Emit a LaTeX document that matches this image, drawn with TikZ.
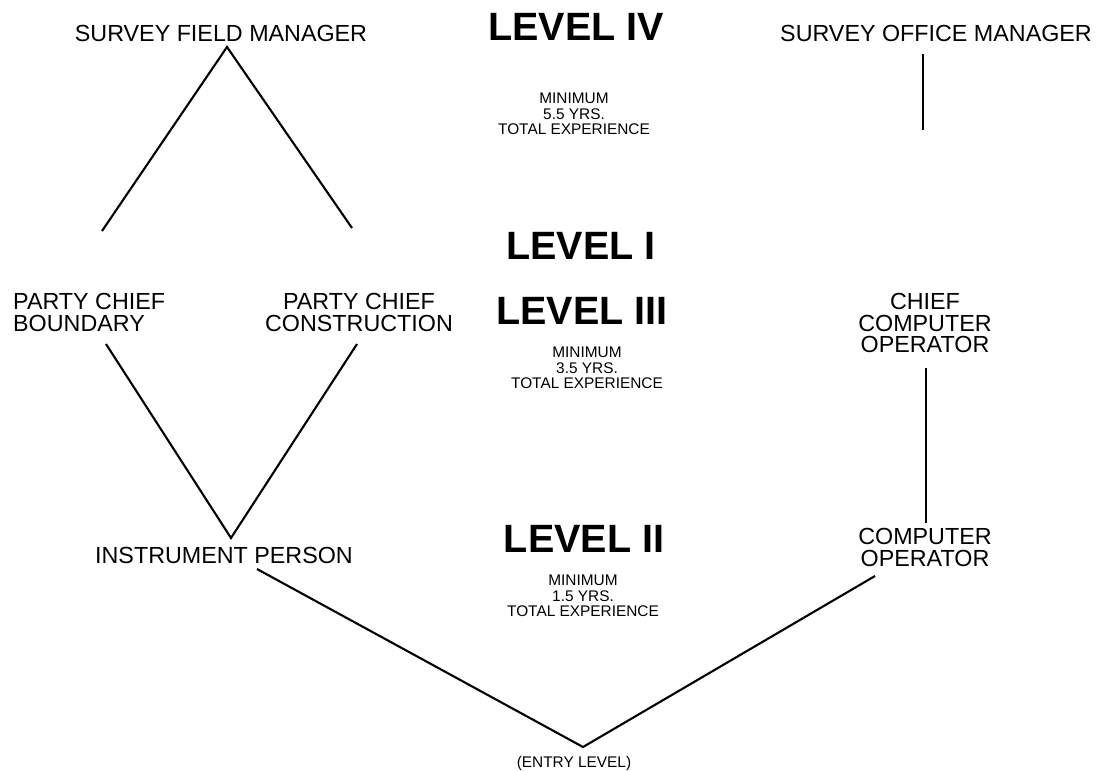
\documentclass[tikz,border=0pt]{standalone}
\usepackage{fontspec}
\setmainfont{Liberation Sans}
\begin{document}
\begin{tikzpicture}[x=1pt,y=-1pt]
            \tikzstyle{job}=[inner sep=0pt, align=center, anchor=north, font=\fontsize{23.3}{21.7}\selectfont]
            \tikzstyle{level}=[inner sep=0pt, anchor=north, font=\fontsize{39.5}{40}\selectfont\bfseries]
            \tikzstyle{minexp}=[inner sep=0pt, align=center, anchor=north, font=\fontsize{15.4}{15.5}\selectfont]
            \tikzstyle{link}=[line width=2.1pt]
            \useasboundingbox (0,0) rectangle (1098,771);
            % field side
            \node[job] (sfm) at (221,25) {SURVEY FIELD MANAGER};
            \node[job, anchor=north west, align=left] (pcb) at (13,293) {PARTY CHIEF\\BOUNDARY};
            \node[job] (pcc) at (359,293) {PARTY CHIEF\\CONSTRUCTION};
            \node[job] (ip) at (224,547) {INSTRUMENT PERSON};
            % office side
            \node[job] (som) at (936,25) {SURVEY OFFICE MANAGER};
            \node[job] (cco) at (925,293) {CHIEF\\COMPUTER\\OPERATOR};
            \node[job] (co) at (925,528) {COMPUTER\\OPERATOR};
            % levels
            \node[level] (l4) at (576,13) {LEVEL IV};
            \node[minexp] (m4) at (574,93) {MINIMUM\\5.5 YRS.\\TOTAL EXPERIENCE};
            \node[level] (l1) at (581,232) {LEVEL I};
            \node[level] (l3) at (582,297) {LEVEL III};
            \node[minexp] (m3) at (587,347) {MINIMUM\\3.5 YRS.\\TOTAL EXPERIENCE};
            \node[level] (l2) at (584,525) {LEVEL II};
            \node[minexp] (m2) at (583,575) {MINIMUM\\1.5 YRS.\\TOTAL EXPERIENCE};
            \node[minexp, anchor=base] (entry) at (574,767) {(ENTRY LEVEL)};
            % line ends
            \coordinate (sfmtip) at (227,47);
            \coordinate (pcbtop) at (102,231);
            \coordinate (pcctop) at (352,228);
            \coordinate (pcbbot) at (106,344);
            \coordinate (pccbot) at (357,344);
            \coordinate (iptip) at (231,538);
            \coordinate (ipbot) at (257,569);
            \coordinate (entrytip) at (583,747);
            \coordinate (cobot) at (875,576);
            \coordinate (somtop) at (923,54);
            \coordinate (sombot) at (923,130);
            \coordinate (ccobot) at (926,368);
            \coordinate (cotop) at (926,523);
            \draw[link] (pcbtop) -- (sfmtip) -- (pcctop);
            \draw[link] (pcbbot) -- (iptip) -- (pccbot);
            \draw[link] (ipbot) -- (entrytip) -- (cobot);
            \draw[link] (somtop) -- (sombot);
            \draw[link] (ccobot) -- (cotop);
        \end{tikzpicture}
\end{document}
